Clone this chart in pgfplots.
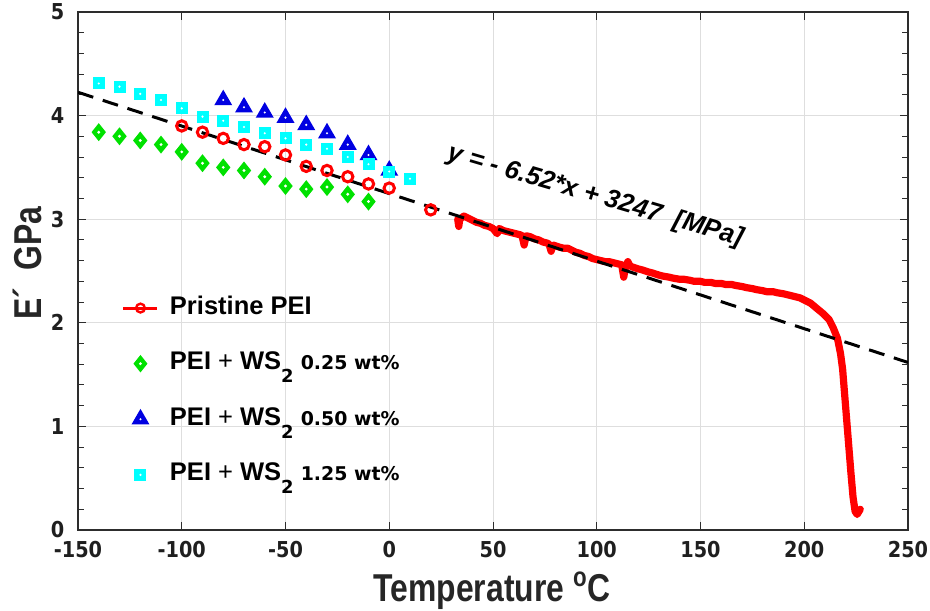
\documentclass[border=0pt]{standalone}
\usepackage{fontspec}
\setmainfont{Liberation Sans}
\newfontfamily\tickfont[FakeStretch=0.88]{DejaVu Sans}
\newfontfamily\labfont[FakeStretch=0.82]{Liberation Sans}
\newfontfamily\smallfont{DejaVu Sans}
\usepackage{pgfplots}
\pgfplotsset{compat=1.18}
\usetikzlibrary{calc}

\definecolor{mred}{RGB}{255,0,0}
\definecolor{mgreen}{RGB}{0,225,0}
\definecolor{mblue}{RGB}{0,0,225}
\definecolor{mcyan}{RGB}{0,255,255}
\definecolor{gridgray}{RGB}{222,222,222}
\definecolor{axgray}{RGB}{45,45,45}

% filled marks with the small white dot in the middle
\pgfdeclareplotmark{sqdot}{%
  \pgfpathrectangle{\pgfqpoint{-\pgfplotmarksize}{-\pgfplotmarksize}}{\pgfqpoint{2\pgfplotmarksize}{2\pgfplotmarksize}}%
  \pgfusepathqfill
  \begin{pgfscope}\pgfsetfillcolor{white}\pgfpathcircle{\pgfpointorigin}{0.6pt}\pgfusepathqfill\end{pgfscope}}
\pgfdeclareplotmark{tridot}{%
  \pgfpathmoveto{\pgfqpointpolar{90}{\pgfplotmarksize}}%
  \pgfpathlineto{\pgfqpointpolar{210}{\pgfplotmarksize}}%
  \pgfpathlineto{\pgfqpointpolar{330}{\pgfplotmarksize}}%
  \pgfpathclose\pgfusepathqfill
  \begin{pgfscope}\pgfsetfillcolor{white}\pgfpathcircle{\pgfpointorigin}{0.6pt}\pgfusepathqfill\end{pgfscope}}
\pgfdeclareplotmark{diadot}{%
  \pgfpathmoveto{\pgfqpoint{0pt}{1.25\pgfplotmarksize}}%
  \pgfpathlineto{\pgfqpoint{\pgfplotmarksize}{0pt}}%
  \pgfpathlineto{\pgfqpoint{0pt}{-1.25\pgfplotmarksize}}%
  \pgfpathlineto{\pgfqpoint{-\pgfplotmarksize}{0pt}}%
  \pgfpathclose\pgfusepathqfill
  \begin{pgfscope}\pgfsetfillcolor{white}\pgfpathcircle{\pgfpointorigin}{0.8pt}\pgfusepathqfill\end{pgfscope}}

\newcommand{\wsub}{\raisebox{-6.5bp}{\smallfont\bfseries\fontsize{9}{10}\selectfont 2}}
\newcommand{\wt}[1]{{\smallfont\bfseries\fontsize{9.5}{10}\selectfont #1}}

\begin{document}
\begin{tikzpicture}
\begin{axis}[
  scale only axis, width=415bp, height=259bp,
  xmin=-150, xmax=250, ymin=0, ymax=5,
  xtick={-150,-100,...,250}, ytick={0,1,...,5},
  minor y tick num=4,
  tick align=inside,
  major tick length=4bp, minor tick length=3bp,
  grid=major, major grid style={draw=gridgray, line width=0.5pt},
  axis line style={draw=axgray, line width=0.7pt},
  tick style={draw=axgray, line width=0.5pt},
  /pgf/number format/assume math mode=true,
  ticklabel style={font=\tickfont\bfseries\fontsize{11}{12}\selectfont, text=black!88},
  xticklabel style={yshift=-2.3bp},
  yticklabel style={xshift=-3.3bp},
  xlabel={Temperature \textsuperscript{o}C},
  ylabel={E´\ \ GPa},
  label style={font=\labfont\bfseries\fontsize{19.5}{22}\selectfont, text=black!85},
  xlabel style={at={(axis description cs:0.499,-0.139)}, anchor=base},
  ylabel style={at={(axis description cs:-0.0434,0.515)}, anchor=base},
  legend style={at={(axis cs:-129,1.337)}, anchor=west, draw=none, fill=none,
    inner sep=0pt, row sep=15.8bp, column sep=5.5bp,
    nodes={inner sep=0pt, text height=9bp, text depth=3bp,
      font=\bfseries\fontsize{12.8}{14}\selectfont}},
  legend cell align=left,
]
\addlegendimage{mred, line width=1.5bp, mark=o, mark size=2.2bp, mark options={solid, line width=1.2bp}}
\addlegendentry{Pristine PEI}
\addlegendimage{only marks, mgreen, mark=diadot, mark size=3.5bp}
\addlegendentry{PEI {\mdseries +} WS\wsub\ \wt{0.25 wt\%}}
\addlegendimage{only marks, mblue, mark=tridot, mark size=5.2bp}
\addlegendentry{PEI {\mdseries +} WS\wsub\ \wt{0.50 wt\%}}
\addlegendimage{only marks, mcyan, mark=sqdot, mark size=3bp}
\addlegendentry{PEI {\mdseries +} WS\wsub\ \wt{1.25 wt\%}}

% pristine PEI, continuous DMA trace
\addplot[mred, line width=3.6bp, line join=round, line cap=round, forget plot] coordinates {
(33,3.00)(33.5,2.93)(34,3.00)(36,3.03)(38,3.01)(40,2.99)(42,2.97)(44,2.96)(46,2.94)
(48,2.93)(50,2.91)(52,2.86)(53,2.91)(55,2.89)(57,2.88)(59,2.87)(61,2.86)(63,2.85)
(64,2.84)(65,2.75)(66,2.84)(68,2.83)(70,2.81)(72,2.80)(74,2.78)(76,2.77)(77,2.76)
(78,2.69)(79,2.75)(82,2.73)(84,2.72)(86,2.72)(88,2.70)(90,2.68)(92,2.67)(94,2.65)
(96,2.64)(98,2.62)(100,2.61)(102,2.60)(104,2.59)(106,2.59)(108,2.58)(110,2.57)
(112,2.56)(113,2.44)(114,2.55)(115,2.59)(116,2.55)(117,2.54)(120,2.52)(122,2.51)
(125,2.49)(127,2.48)(130,2.46)(132,2.45)(135,2.44)(137,2.43)(140,2.42)(142,2.42)
(145,2.41)(147,2.40)(150,2.40)(152,2.39)(155,2.39)(157,2.38)(160,2.38)(162,2.37)
(165,2.37)(167,2.36)(170,2.35)(172,2.34)(175,2.33)(177,2.32)(180,2.31)(182,2.30)
(185,2.30)(187,2.29)(190,2.28)(192,2.27)(194,2.26)(196,2.25)(198,2.24)(200,2.22)
(203,2.19)(206,2.14)(209,2.09)(212,2.03)(214,1.95)(216,1.85)(217.5,1.70)(218.5,1.55)
(219.5,1.30)(220.5,1.05)(221.5,0.80)(222.5,0.55)(223.5,0.32)(224.5,0.18)(225.5,0.15)
(227,0.20)};

% linear fit  y = -6.52 x + 3247 MPa
\addplot[black, line width=1.5bp, dash pattern=on 8bp off 5bp, forget plot] coordinates {(-150,4.225)(250,1.617)};

\addplot[only marks, mark=o, mred, mark size=2.6bp, mark options={line width=1.5bp}, forget plot] coordinates {
(-100,3.90)(-90,3.84)(-80,3.78)(-70,3.72)(-60,3.70)(-50,3.62)(-40,3.51)(-30,3.47)
(-20,3.41)(-10,3.34)(0,3.30)(20,3.09)};
\addplot[only marks, mark=diadot, mgreen, mark size=3.6bp, forget plot] coordinates {
(-140,3.84)(-130,3.80)(-120,3.76)(-110,3.72)(-100,3.65)(-90,3.54)(-80,3.50)(-70,3.47)
(-60,3.41)(-50,3.32)(-40,3.29)(-30,3.31)(-20,3.24)(-10,3.17)};
\addplot[only marks, mark=tridot, mblue, mark size=5.2bp, forget plot] coordinates {
(-80,4.15)(-70,4.08)(-60,4.03)(-50,3.98)(-40,3.91)(-30,3.83)(-20,3.72)(-10,3.62)(0,3.47)};
\addplot[only marks, mark=sqdot, mcyan, mark size=3bp, forget plot] coordinates {
(-140,4.31)(-130,4.28)(-120,4.21)(-110,4.15)(-100,4.07)(-90,3.99)(-80,3.95)(-70,3.89)
(-60,3.83)(-50,3.78)(-40,3.72)(-30,3.68)(-20,3.60)(-10,3.53)(0,3.46)(10,3.39)};

\node[rotate=-16.5, font=\bfseries\itshape\fontsize{13}{14}\selectfont] at (axis cs:99.4,3.22)
  {y = - 6.52*x + 3247\ \ [MPa]};
\end{axis}
\pgfresetboundingbox
\path[use as bounding box] ($(current axis.south west)+(-39bp,-40.5bp)$) rectangle ($(current axis.north east)+(11bp,6bp)$);
\end{tikzpicture}
\end{document}
